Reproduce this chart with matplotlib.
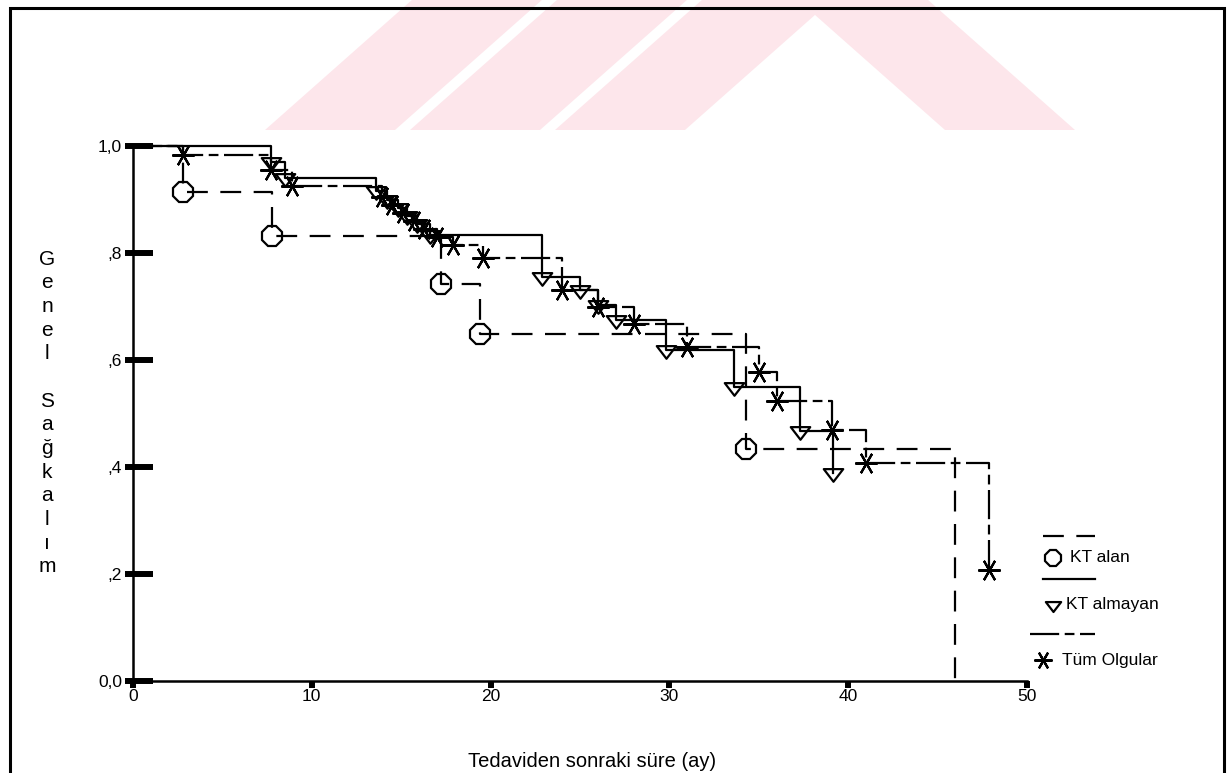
import matplotlib
matplotlib.use("Agg")
import matplotlib.pyplot as plt
from matplotlib.lines import Line2D
from matplotlib.patches import Polygon, Rectangle
from matplotlib.path import Path

plt.rcParams['font.family'] = ['Liberation Sans', 'DejaVu Sans']
plt.rcParams['lines.scale_dashes'] = False

# ---------------- data ----------------
# KT alan (chemotherapy received) - event times (months) and survival after each step
kt_alan_t = [2.8, 7.8, 17.2, 19.4, 34.3, 46.0]
kt_alan_s = [0.914, 0.832, 0.742, 0.648, 0.434, 0.0]

# KT almayan (no chemotherapy)
kt_almayan_t = [7.7, 8.5, 13.6, 14.2, 14.8, 15.3, 15.9, 16.6, 22.9, 25.0, 26.0, 27.0, 29.8, 33.6, 37.3, 39.15]
kt_almayan_s = [0.97, 0.94, 0.915, 0.90, 0.885, 0.87, 0.855, 0.833, 0.755, 0.731, 0.703, 0.675, 0.619, 0.55, 0.467, 0.389]

# Tüm Olgular (all cases)
tum_t = [2.8, 7.7, 8.9, 13.9, 14.5, 15.1, 15.7, 16.3, 17.0, 17.9, 19.6, 24.0, 26.0, 28.0, 31.0, 35.0, 36.0, 39.1, 41.0, 47.9]
tum_s = [0.983, 0.955, 0.925, 0.905, 0.89, 0.875, 0.86, 0.845, 0.83, 0.815, 0.79, 0.731, 0.70, 0.667, 0.624, 0.577, 0.523, 0.47, 0.408, 0.207]

series_names = ["KT alan", "KT almayan", "Tüm Olgular"]
x_ticks = [0, 10, 20, 30, 40, 50]
y_ticks = [0.0, 0.2, 0.4, 0.6, 0.8, 1.0]
y_tick_labels = ["0,0", ",2", ",4", ",6", ",8", "1,0"]
x_label = "Tedaviden sonraki süre (ay)"
y_label = "Genel Sağkalım"

# ---------------- figure ----------------
W, H = 1232, 773
fig = plt.figure(figsize=(W / 100, H / 100), dpi=100)

def fx(px):
    return px / W

def fy(py):
    return 1 - py / H

# faint watermark (decorative)
wm_color = '#fde6eb'
slope = 1.13
yb, yt = 130, 0
d = slope * (yb - yt)
for xb0, xb1 in [(265, 395), (410, 540), (555, 685)]:
    pts = [(fx(xb0), fy(yb)), (fx(xb1), fy(yb)), (fx(xb1 + d), fy(yt)), (fx(xb0 + d), fy(yt))]
    fig.add_artist(Polygon(pts, closed=True, facecolor=wm_color, edgecolor='none', zorder=0))
pts = [(fx(945), fy(yb)), (fx(1075), fy(yb)), (fx(1075 - d), fy(yt)), (fx(945 - d), fy(yt))]
fig.add_artist(Polygon(pts, closed=True, facecolor=wm_color, edgecolor='none', zorder=0))

# outer frame
fig.add_artist(Rectangle((fx(10), fy(780)), fx(1224) - fx(10), fy(8) - fy(780),
                         fill=False, edgecolor='black', linewidth=2.2, zorder=5))

ax = fig.add_axes([fx(133), fy(681), fx(1027) - fx(133), fy(146) - fy(681)])
ax.set_facecolor('none')
ax.set_xlim(0, 50)
ax.set_ylim(0, 1.0)

lw = 1.6
dash_alan = (0, (15, 9))
dash_tum = (0, (21, 4, 7, 4))
star_marker = (6, 2, 90)
tri_marker = Path([(-1.0, 0.45), (1.0, 0.45), (0.0, -0.85), (-1.0, 0.45)],
                  [Path.MOVETO, Path.LINETO, Path.LINETO, Path.CLOSEPOLY])

def km(times, surv):
    return [0.0] + list(times), [1.0] + list(surv)

xa, ya = km(kt_alan_t, kt_alan_s)
ax.step(xa, ya, where='post', color='black', lw=lw, linestyle=dash_alan, clip_on=False, zorder=3)
ax.plot(kt_alan_t[:-1], kt_alan_s[:-1], linestyle='none', marker='8', markersize=16,
        markerfacecolor='none', markeredgecolor='black', markeredgewidth=1.6, clip_on=False, zorder=4)

xb, yb_ = km(kt_almayan_t, kt_almayan_s)
ax.step(xb, yb_, where='post', color='black', lw=lw, linestyle='-', clip_on=False, zorder=3)
ax.plot(kt_almayan_t, kt_almayan_s, linestyle='none', marker=tri_marker, markersize=14,
        markerfacecolor='none', markeredgecolor='black', markeredgewidth=1.6, clip_on=False, zorder=4)

xc, yc = km(tum_t, tum_s)
ax.step(xc, yc, where='post', color='black', lw=lw, linestyle=dash_tum, clip_on=False, zorder=3)
ax.plot(tum_t, tum_s, linestyle='none', marker=star_marker, markersize=16,
        markeredgecolor='black', markeredgewidth=1.6, clip_on=False, zorder=4)

# axes style
for s in ['top', 'right']:
    ax.spines[s].set_visible(False)
for s in ['left', 'bottom']:
    ax.spines[s].set_linewidth(1.8)
ax.set_xticks(x_ticks)
ax.set_xticklabels([str(v) for v in x_ticks], fontsize=12.5)
ax.set_yticks(y_ticks)
ax.set_yticklabels(y_tick_labels, fontsize=12.5)
ax.set_yticks(y_ticks, minor=True)
ax.yaxis.remove_overlapping_locs = False
ax.tick_params(axis='y', which='major', direction='in', length=14.5, width=4.3, pad=8)
ax.tick_params(axis='y', which='minor', direction='out', length=5.5, width=4.3)
ax.tick_params(axis='x', direction='out', length=5, width=4.3, pad=1)

# x label
fig.text(fx(592), fy(767), x_label, ha='center', va='baseline', fontsize=14.5)

# vertical stacked y label
letters = [c if c != ' ' else '' for c in y_label]
fig.text(fx(47), fy(413), '\n'.join(letters), ha='center', va='center', fontsize=15, linespacing=1.31)

# custom legend
leg_x1 = 1095
entries = [
    (536, 558, dash_alan, 1043, dict(marker='8', markersize=12, markerfacecolor='none'), 1053, 1070, series_names[0]),
    (579, 605, '-', 1043, dict(marker=tri_marker, markersize=11, markerfacecolor='none'), 1053, 1066, series_names[1]),
    (634, 660, dash_tum, 1030, dict(marker=star_marker, markersize=13), 1043, 1062, series_names[2]),
]
for ly, my, ls, x0, mk, mx, tx, label in entries:
    fig.add_artist(Line2D([fx(x0), fx(leg_x1)], [fy(ly), fy(ly)], color='black', lw=lw, linestyle=ls))
    fig.add_artist(Line2D([fx(mx)], [fy(my)], linestyle='none', markeredgecolor='black',
                          markeredgewidth=1.6, **mk))
    fig.text(fx(tx), fy(my), label, ha='left', va='center', fontsize=12.5)

fig.savefig('out.png', dpi=100, facecolor='white')
